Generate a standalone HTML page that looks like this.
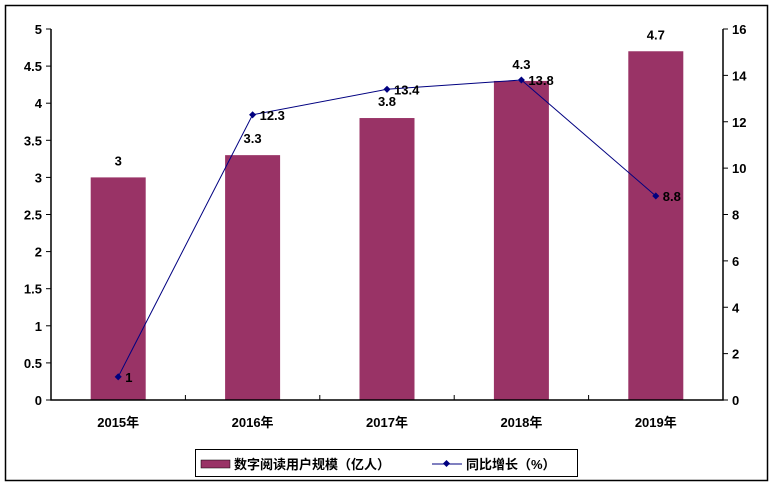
<!DOCTYPE html>
<html><head><meta charset="utf-8"><style>
body{margin:0;background:#fff}
text{font-family:"Liberation Sans","Noto Sans CJK SC",sans-serif;font-weight:bold;font-size:13px;fill:#000}
</style></head><body>
<svg id="c" width="773" height="488">
<rect x="5.5" y="5.5" width="762" height="475" fill="#fff" stroke="#000" stroke-width="1.5"/>
<g id="g"></g>
<g>
<rect x="195.5" y="449.5" width="382" height="27" fill="#fff" stroke="#000"/>
<rect x="201" y="460" width="29" height="8" fill="#993366" stroke="#000" stroke-width="0.5"/>
<text x="234" y="469">数字阅读用户规模（亿人）</text>
<line x1="432" y1="464" x2="462" y2="464" stroke="#000080"/>
<rect x="444" y="461" width="5" height="5" fill="#000080" transform="rotate(45 446.5 463.5)"/>
<text x="466" y="469">同比增长（%）</text>
</g>
</svg>
<script>
const categories=["2015年","2016年","2017年","2018年","2019年"];
const users=[3,3.3,3.8,4.3,4.7];
const growth=[1,12.3,13.4,13.8,8.8];
const leftTicks=[0,0.5,1,1.5,2,2.5,3,3.5,4,4.5,5];
const rightTicks=[0,2,4,6,8,10,12,14,16];
const L=51,R=723,T=29,B=400;
const yL=v=>B-(v/5)*(B-T), yR=v=>B-(v/16)*(B-T);
const cw=(R-L)/categories.length, xC=i=>L+cw*(i+0.5);
const g=document.getElementById('g');const NS='http://www.w3.org/2000/svg';
function mk(t,a,txt){const e=document.createElementNS(NS,t);for(const k in a)e.setAttribute(k,a[k]);if(txt!=null)e.textContent=txt;g.appendChild(e);return e;}
users.forEach((v,i)=>{const e=mk('rect',{x:xC(i)-27.5,y:yL(v),width:55,height:B-yL(v),fill:'#993366'});


const t=mk('text',{x:xC(i),y:yL(v)-12,'text-anchor':'middle'},String(v));

});
let ax=mk('path',{d:`M${L} ${T}V${B}H${R}V${T}`,fill:'none',stroke:'#000','stroke-width':1.5});


leftTicks.forEach(v=>{mk('line',{x1:L-5,x2:L,y1:yL(v),y2:yL(v),stroke:'#000'});
const t=mk('text',{x:L-9,y:yL(v)+5,'text-anchor':'end'},String(v));

});
rightTicks.forEach(v=>{mk('line',{x1:R,x2:R+5,y1:yR(v),y2:yR(v),stroke:'#000'});
const t=mk('text',{x:R+9,y:yR(v)+5},String(v));

});
categories.forEach((c,i)=>{if(i>0)mk('line',{x1:L+cw*i,x2:L+cw*i,y1:B-5,y2:B,stroke:'#000'});
const t=mk('text',{x:xC(i),y:B+27,'text-anchor':'middle'},c);

});
const ln=mk('polyline',{points:growth.map((v,i)=>xC(i)+','+yR(v)).join(' '),fill:'none',stroke:'#000080'});


growth.forEach((v,i)=>{const p=mk('rect',{x:xC(i)-2.5,y:yR(v)-2.5,width:5,height:5,fill:'#000080',transform:`rotate(45 ${xC(i)} ${yR(v)})`});


const t=mk('text',{x:xC(i)+7,y:yR(v)+5},String(v));

});
</script>
</body></html>
